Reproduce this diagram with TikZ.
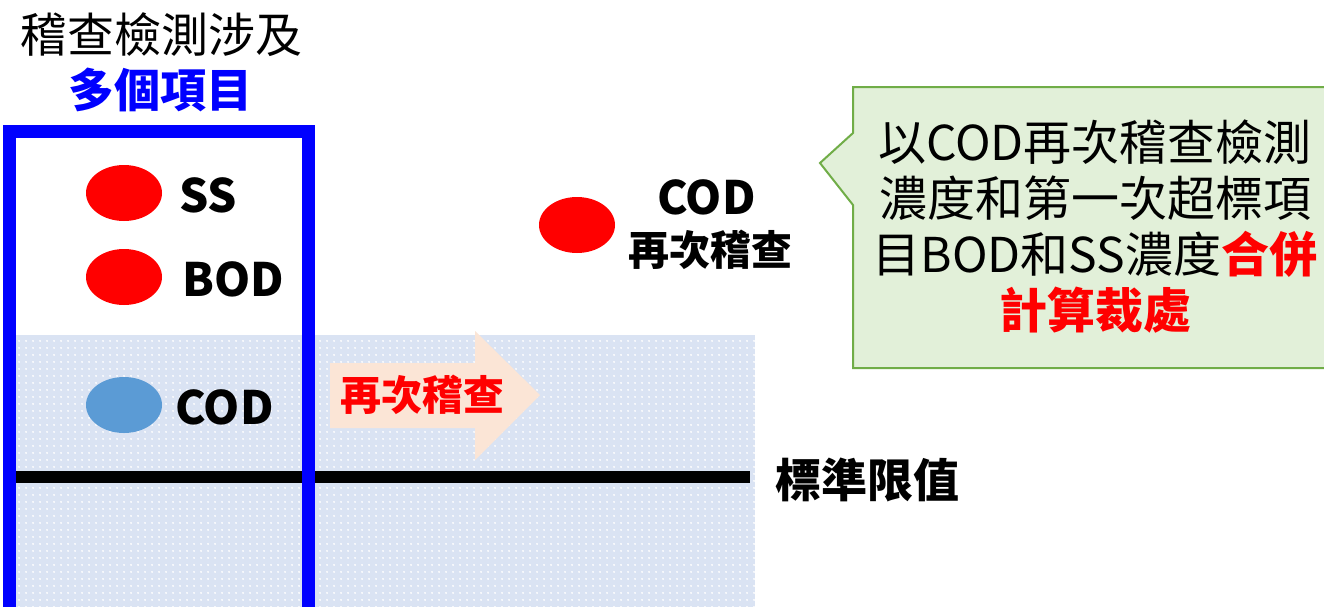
\documentclass[tikz,border=0pt]{standalone}
\usepackage{fontspec}
\setmainfont{Noto Sans CJK TC}
\usetikzlibrary{positioning,shapes.geometric,patterns.meta}
\definecolor{PureBlue}{RGB}{0,0,255}
\definecolor{PureRed}{RGB}{255,0,0}
\definecolor{ZoneBlue}{RGB}{218,227,243}
\definecolor{DotBlue}{RGB}{91,155,213}
\definecolor{ArrowPeach}{RGB}{251,229,214}
\definecolor{NoteGreen}{RGB}{226,240,217}
\definecolor{NoteEdge}{RGB}{112,173,71}

\begin{document}
\begin{tikzpicture}[x=1pt,y=-1pt,
    dot/.style={ellipse,minimum width=76pt,minimum height=56pt,inner sep=0pt},
    tag/.style={font=\fontsize{46}{52}\selectfont\bfseries,inner sep=0pt,anchor=west},
    big/.style={font=\fontsize{48}{56}\selectfont,inner sep=0pt,align=center}]
  \useasboundingbox[fill=white] (0,0) rectangle (1324,606);
  % zone under the limit
  \fill[ZoneBlue] (12,335) rectangle (755,610);
  \fill[pattern={Dots[distance=6.5pt,radius=1.1pt]},pattern color=white] (12,335) rectangle (755,610);
  \coordinate (lim-a) at (15,477);
  \coordinate (lim-b) at (750,477);
  \draw[line width=12pt] (lim-a) -- (lim-b);
  \node[tag,right=25pt of lim-b,yshift=-3pt] (lim) {標準限值};
  % items box
  \draw[PureBlue,line width=13pt] (9.5,640) -- (9.5,131) -- (308.5,131) -- (308.5,640);
  \node[big,font=\fontsize{47}{56}\selectfont] (title) at (161,35) {稽查檢測涉及};
  \node[big,font=\fontsize{46}{56}\selectfont\bfseries,text=PureBlue] (many) at (160,90) {多個項目};
  \foreach \n/\y/\c/\lab/\dx in {ss/193/PureRed/SS/179,bod/277/PureRed/BOD/182,cod/405/DotBlue/COD/175}{
    \node[dot,fill=\c] (\n) at (124,\y) {};
    \node[tag] (\n-lab) at (\dx,\y+2) {\lab};}
  % second check
  \fill[ArrowPeach] (330,363) -- (475,363) -- (475,331) -- (540,395) -- (475,460) -- (475,428) -- (330,428) -- cycle;
  \node[tag,font=\fontsize{41}{48}\selectfont\bfseries,text=PureRed] (again) at (340,395) {再次稽查};
  \node[dot,fill=PureRed] (cod2) at (577,225) {};
  \node[tag] (cod2-lab) at (657,197) {COD};
  \node[tag,font=\fontsize{41}{48}\selectfont\bfseries] (cod2-sub) at (628,250) {再次稽查};
  % note
  \filldraw[fill=NoteGreen,draw=NoteEdge,line width=2pt]
    (1330,87) -- (853,87) -- (853,133) -- (820,163) -- (853,205) -- (853,368) -- (1330,368);
  \node[big] (note) at (1095,227) {以COD再次稽查檢測\\濃度和第一次超標項\\目BOD和SS濃度\textcolor{PureRed}{\bfseries 合併}\\\textcolor{PureRed}{\bfseries 計算裁處}};
\end{tikzpicture}
\end{document}
